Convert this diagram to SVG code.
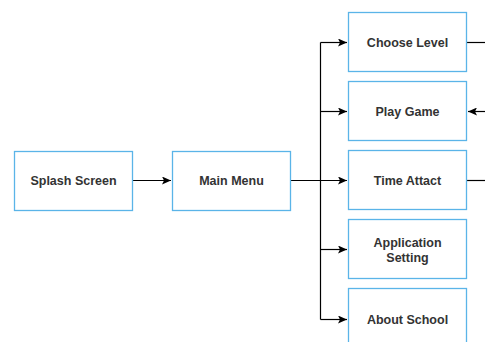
<svg xmlns="http://www.w3.org/2000/svg" width="485" height="342" viewBox="0 0 485 342">
<style>
.box{fill:#fff;stroke:#5ab4e8;stroke-width:1.3}
.lbl{font-family:"Liberation Sans",Arial,sans-serif;font-size:12.5px;font-weight:bold;fill:#333;text-anchor:middle}
.edge{fill:none;stroke:#000;stroke-width:1.2}
</style>
<defs>
<marker id="ah" markerWidth="10" markerHeight="8" refX="9" refY="4" orient="auto" markerUnits="userSpaceOnUse">
<path d="M0,0 L9,4 L0,8 L2,4 Z" fill="#000"/>
</marker>
</defs>
<rect width="485" height="342" fill="#fff"/>
<g id="connectors">
<path class="edge" d="M132,180.5 H171" marker-end="url(#ah)"/>
<path class="edge" d="M290,180.5 H347" marker-end="url(#ah)"/>
<path class="edge" d="M320.5,42.5 V319.5"/>
<path class="edge" d="M320.5,42.5 H347" marker-end="url(#ah)"/>
<path class="edge" d="M320.5,111.5 H347" marker-end="url(#ah)"/>
<path class="edge" d="M320.5,249.5 H347" marker-end="url(#ah)"/>
<path class="edge" d="M320.5,319.5 H347" marker-end="url(#ah)"/>
<path class="edge" d="M467,42.5 H485"/>
<path class="edge" d="M485,111.5 H468" marker-end="url(#ah)"/>
<path class="edge" d="M467,180.5 H485"/>
</g>
<g id="splash"><rect class="box" x="14.5" y="151.5" width="118" height="59"/><text class="lbl" x="73.5" y="185">Splash Screen</text></g>
<g id="mainmenu"><rect class="box" x="172.5" y="151.5" width="118" height="59"/><text class="lbl" x="231.5" y="185">Main Menu</text></g>
<g id="chooselevel"><rect class="box" x="348.5" y="12.5" width="118" height="59"/><text class="lbl" x="407.5" y="46.5">Choose Level</text></g>
<g id="playgame"><rect class="box" x="348.5" y="81.5" width="118" height="59"/><text class="lbl" x="407.5" y="115.5">Play Game</text></g>
<g id="timeattact"><rect class="box" x="348.5" y="150.5" width="118" height="59"/><text class="lbl" x="407.5" y="184.5">Time Attact</text></g>
<g id="appsetting"><rect class="box" x="348.5" y="219.5" width="118" height="59"/><text class="lbl" x="407.5" y="246.5">Application</text><text class="lbl" x="407.5" y="261.5">Setting</text></g>
<g id="aboutschool"><rect class="box" x="348.5" y="288.5" width="118" height="59"/><text class="lbl" x="407.5" y="323.5">About School</text></g>
</svg>
